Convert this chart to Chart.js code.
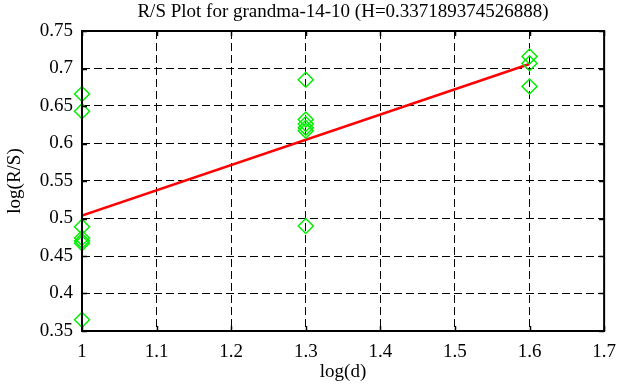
<!DOCTYPE html>
<html>
<head>
<meta charset="utf-8">
<script src="https://cdn.jsdelivr.net/npm/chart.js@4/dist/chart.umd.min.js"></script>
<style>
  html, body { margin: 0; padding: 0; background: #fff; }
  #wrap { width: 626px; height: 387px; }
</style>
</head>
<body>
<div id="wrap"><canvas id="c"></canvas></div>
<script>
const titleText = "R/S Plot for grandma-14-10 (H=0.337189374526888)";

// log(d) and log(R/S) samples
const logD = [1, 1, 1, 1, 1, 1, 1,
              1.3, 1.3, 1.3, 1.3, 1.3, 1.3,
              1.6, 1.6, 1.6];
const logRS = [0.666, 0.643, 0.489, 0.474, 0.470, 0.467, 0.365,
               0.685, 0.632, 0.626, 0.621, 0.617, 0.490,
               0.716, 0.707, 0.676];

// fitted line end points
const fitX = [1, 1.6];
const fitY = [0.504, 0.706];

const xTicks = [1, 1.1, 1.2, 1.3, 1.4, 1.5, 1.6, 1.7];
const yTicks = [0.35, 0.4, 0.45, 0.5, 0.55, 0.6, 0.65, 0.7, 0.75];

const font = "'Liberation Serif', 'DejaVu Serif', serif";

const frame = {
  id: "frame",
  afterDraw(chart) {
    const { ctx, chartArea: a, scales } = chart;
    ctx.save();
    ctx.strokeStyle = "#000";
    ctx.lineWidth = 1.5;
    // inner ticks
    ctx.beginPath();
    xTicks.forEach(v => {
      const px = Math.round(scales.x.getPixelForValue(v)) + 0.5;
      ctx.moveTo(px, a.bottom); ctx.lineTo(px, a.bottom - 5);
      ctx.moveTo(px, a.top); ctx.lineTo(px, a.top + 5);
    });
    yTicks.forEach(v => {
      const py = Math.round(scales.y.getPixelForValue(v)) + 0.5;
      ctx.moveTo(a.left, py); ctx.lineTo(a.left + 5, py);
      ctx.moveTo(a.right, py); ctx.lineTo(a.right - 5, py);
    });
    ctx.stroke();
    ctx.lineWidth = 2;
    ctx.strokeRect(a.left, a.top, a.right - a.left, a.bottom - a.top);
    ctx.fillStyle = "#000";
    ctx.font = "19px " + font;
    ctx.textAlign = "center";
    ctx.textBaseline = "middle";
    ctx.fillText(titleText, (a.left + a.right) / 2, 12);
    ctx.restore();
  }
};

const gridColor = ctx => {
  const v = ctx.tick && ctx.tick.value;
  const s = ctx.scale;
  return (Math.abs(v - s.min) < 1e-9 || Math.abs(v - s.max) < 1e-9) ? "rgba(0,0,0,0)" : "#000";
};

new Chart(document.getElementById("c"), {
  type: "scatter",
  data: {
    datasets: [
      {
        type: "line",
        data: fitX.map((x, i) => ({ x, y: fitY[i] })),
        borderColor: "#ff0000",
        borderWidth: 2.5,
        pointRadius: 0,
        fill: false,
        order: 2
      },
      {
        data: logD.map((x, i) => ({ x, y: logRS[i] })),
        pointStyle: "rectRot",
        pointRadius: 7.5,
        pointBorderColor: "#00ee00",
        pointBackgroundColor: "rgba(0,0,0,0)",
        pointBorderWidth: 1.5,
        clip: false,
        order: 1
      }
    ]
  },
  options: {
    responsive: true,
    maintainAspectRatio: false,
    animation: false,
    layout: { padding: { top: 31, right: 16, left: 0, bottom: 0 } },
    plugins: { legend: { display: false }, tooltip: { enabled: false }, title: { display: false } },
    scales: {
      x: {
        type: "linear",
        min: 1, max: 1.7,
        afterFit: s => { s.height = 56; },
        afterBuildTicks: s => { s.ticks = xTicks.map(v => ({ value: v })); },
        ticks: {
          color: "#000", padding: 10,
          font: { family: font, size: 19 },
          callback: v => String(Number(v.toFixed(2)))
        },
        grid: { color: gridColor, lineWidth: 1, drawTicks: false },
        border: { display: false, dash: [8, 4] },
        title: { display: true, text: "log(d)", color: "#000", font: { family: font, size: 19 }, padding: { top: 0 } }
      },
      y: {
        type: "linear",
        min: 0.35, max: 0.75,
        afterFit: s => { s.width = 82; },
        afterBuildTicks: s => { s.ticks = yTicks.map(v => ({ value: v })); },
        ticks: {
          color: "#000", padding: 9,
          font: { family: font, size: 19 },
          callback: v => String(Number(v.toFixed(2)))
        },
        grid: { color: gridColor, lineWidth: 1, drawTicks: false },
        border: { display: false, dash: [8, 4] },
        title: { display: true, text: "log(R/S)", color: "#000", font: { family: font, size: 19 }, padding: { bottom: 2 } }
      }
    }
  },
  plugins: [frame]
});
</script>
</body>
</html>
